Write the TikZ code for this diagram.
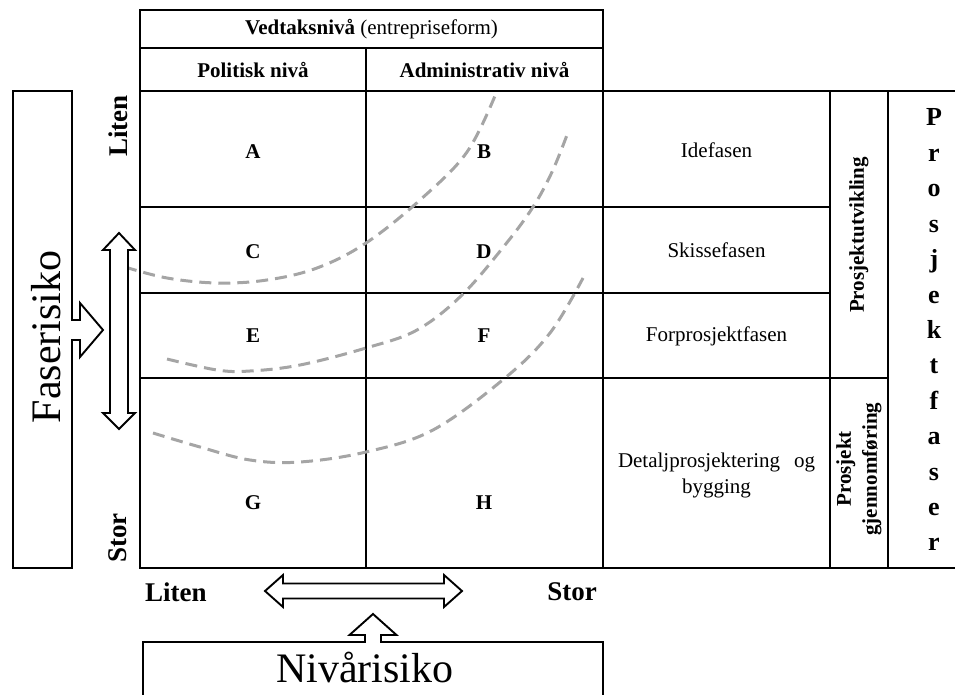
\documentclass[tikz,border=0pt]{standalone}
\usepackage{fontspec}
\setmainfont{Liberation Serif}
\definecolor{curvegray}{RGB}{165,165,165}
\begin{document}
\begin{tikzpicture}[x=1pt,y=-1pt,
  gridline/.style={line width=1.9pt, line cap=rect},
  cell/.style={font=\fontsize{21}{26}\selectfont, inner sep=0pt},
  cellb/.style={font=\bfseries\fontsize{21}{26}\selectfont, inner sep=0pt},
  axislbl/.style={font=\bfseries\fontsize{27}{30}\selectfont, inner sep=0pt},
  letterlbl/.style={font=\bfseries\fontsize{26}{30}\selectfont, inner sep=0pt},
  biglbl/.style={font=\fontsize{42}{48}\selectfont, inner sep=0pt},
  riskcurve/.style={draw=curvegray, line width=3pt, dash pattern=on 12pt off 7pt},
  blockarrow/.style={line width=1.9pt, line join=miter},
]
\useasboundingbox (0,0) rectangle (955,695);

% header
\draw[gridline] (140,91) -- (140,10) -- (603,10) -- (603,91);
\draw[gridline] (140,48) -- (603,48);
% main grid
\draw[gridline] (140,91) -- (955,91);
\draw[gridline] (140,568) -- (955,568);
\draw[gridline] (140,91) -- (140,568);
\draw[gridline] (366,48) -- (366,568);
\draw[gridline] (603,91) -- (603,568);
\draw[gridline] (830,91) -- (830,568);
\draw[gridline] (888,91) -- (888,568);
\draw[gridline] (140,207) -- (830,207);
\draw[gridline] (140,293) -- (830,293);
\draw[gridline] (140,378) -- (888,378);

% risk curves
\draw[riskcurve] plot[smooth, tension=0.6] coordinates {(125,267) (167,278) (217,283) (267,280) (317,268) (366,243) (420,200) (467,152) (497,91)};
\draw[riskcurve] plot[smooth, tension=0.6] coordinates {(167,359) (217,370) (250,371) (300,365) (366,348) (417,330) (462,295) (505,245) (533,207) (552,172) (567,135)};
\draw[riskcurve] plot[smooth, tension=0.6] coordinates {(153,433) (200,447) (250,460) (300,462) (366,452) (433,430) (505,378) (550,333) (583,278)};

% header texts
\node[cellb] (vedt) at (371.5,29) {Vedtaksnivå \mdseries(entrepriseform)};
\node[cellb] (pol) at (253,70) {Politisk nivå};
\node[cellb] (adm) at (484.5,70) {Administrativ nivå};

% cell letters
\node[cellb] (A) at (253,152) {A};
\node[cellb] (B) at (484,152) {B};
\node[cellb] (C) at (253,252) {C};
\node[cellb] (D) at (484,252) {D};
\node[cellb] (E) at (253,336) {E};
\node[cellb] (F) at (484,336) {F};
\node[cellb] (G) at (253,503) {G};
\node[cellb] (H) at (484,503) {H};

% phases
\node[cell] (ide) at (716.5,150) {Idefasen};
\node[cell] (skisse) at (716.5,250) {Skissefasen};
\node[cell] (forpr) at (716.5,336) {Forprosjektfasen};
\node[cell, align=center] (detalj) at (716.5,475) {\makebox[197pt]{Detaljprosjektering\hfill og}\\bygging};

\node[cellb, rotate=90] (putv) at (859,235) {Prosjektutvikling};
\node[cellb, rotate=90, align=center] (pgj) at (859,469) {Prosjekt\\gjennomføring};

\foreach \c [count=\i] in {P,r,o,s,j,e,k,t,f,a,s,e,r}
  \node[letterlbl, anchor=base] (pf\i) at (934,{126+35.4*(\i-1)}) {\c};

% axis labels
\node[axislbl, rotate=90, anchor=east] (litenv) at (118,95) {Liten};
\node[axislbl, rotate=90, anchor=west] (storv) at (118,563) {Stor};
\node[axislbl, anchor=west] (litenh) at (145,592) {Liten};
\node[axislbl, anchor=east] (storh) at (597,592) {Stor};

% Faserisiko box
\draw[gridline] (13,91) rectangle (72,568);
\node[biglbl, rotate=90, anchor=base] (fas) at (60,337) {Faserisiko};
\fill[white] (70,321) rectangle (74,339);
\draw[blockarrow] (72,320) -- (80,320) -- (80,303) -- (103,330) -- (80,357) -- (80,340) -- (72,340);

% vertical double arrow
\draw[blockarrow, fill=white] (119,233) -- (135,250) -- (128,250) -- (128,413) -- (135,413) -- (119,429) -- (103,413) -- (110,413) -- (110,250) -- (103,250) -- cycle;

% horizontal double arrow
\draw[blockarrow, fill=white] (265,591) -- (283,575) -- (283,583.5) -- (444,583.5) -- (444,575) -- (462,591) -- (444,607) -- (444,598.5) -- (283,598.5) -- (283,607) -- cycle;

% Nivarisiko box
\draw[gridline] (143,695) -- (143,642) -- (603,642) -- (603,695);
\node[biglbl, anchor=base] (niv) at (365,682) {Nivårisiko};
\fill[white] (366,640) rectangle (380,644);
\draw[blockarrow] (365,642) -- (365,635) -- (349.5,635) -- (373,614) -- (396.5,635) -- (381,635) -- (381,642);
\end{tikzpicture}
\end{document}
